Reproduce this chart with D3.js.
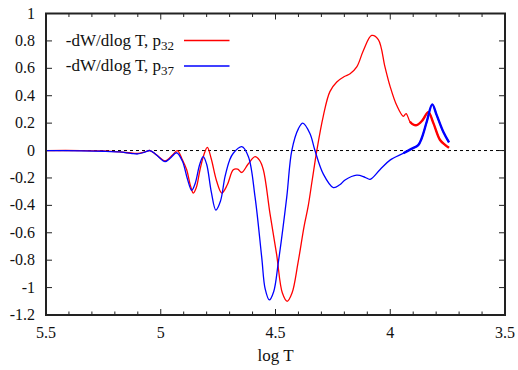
<!DOCTYPE html>
<html>
<head>
<meta charset="utf-8">
<script src="https://cdn.jsdelivr.net/npm/d3@7/dist/d3.min.js"></script>
<style>
  html, body { margin: 0; padding: 0; background: #fff; }
</style>
</head>
<body>
<svg id="chart" width="518" height="370"></svg>
<script>
// -dW/dlog T for the p32 profile
const redLogT = [5.50, 5.35, 5.25, 5.18, 5.13, 5.10, 5.07, 5.047, 5.02, 4.981, 4.95, 4.928, 4.905, 4.887,
  4.87, 4.858, 4.845, 4.829, 4.812, 4.797, 4.78, 4.757, 4.734, 4.71, 4.684, 4.665, 4.647, 4.62, 4.589,
  4.57, 4.553, 4.524, 4.495, 4.47, 4.449, 4.428, 4.402, 4.375, 4.358, 4.34, 4.32, 4.292, 4.263, 4.233, 4.2, 4.175,
  4.146, 4.117, 4.081, 4.052, 4.023, 4.001, 3.972, 3.943, 3.931, 3.914, 3.9, 3.885, 3.86, 3.834,
  3.812, 3.783, 3.76, 3.744];
const redValues = [0, 0, -0.003, -0.01, -0.018, -0.02, -0.01, 0, -0.03, -0.075, -0.035, 0, -0.07, -0.14,
  -0.26, -0.31, -0.27, -0.14, -0.03, 0.023, -0.06, -0.22, -0.31, -0.25, -0.14, -0.135, -0.16, -0.1, -0.045,
  -0.07, -0.14, -0.46, -0.76, -1.04, -1.10, -1.04, -0.82, -0.55, -0.41, -0.215, 0, 0.25, 0.43, 0.50, 0.54, 0.56,
  0.61, 0.73, 0.84, 0.81, 0.61, 0.47, 0.33, 0.25, 0.27, 0.21, 0.19, 0.185, 0.22, 0.28,
  0.2, 0.077, 0.04, 0.02];

// -dW/dlog T for the p37 profile
const blueLogT = [5.50, 5.35, 5.25, 5.18, 5.13, 5.10, 5.07, 5.047, 5.02, 4.981, 4.955, 4.931, 4.905, 4.885,
  4.865, 4.85, 4.83, 4.815, 4.80, 4.78, 4.76, 4.74, 4.72, 4.70, 4.684, 4.647, 4.618, 4.589, 4.56,
  4.545, 4.527, 4.508, 4.488, 4.451, 4.429, 4.40, 4.381, 4.35, 4.328, 4.292, 4.248, 4.22, 4.197, 4.146,
  4.11, 4.088, 4.045, 4.001, 3.943, 3.91, 3.878, 3.863, 3.841, 3.817, 3.798, 3.769, 3.744];
const blueValues = [0, -0.002, -0.005, -0.01, -0.02, -0.025, -0.012, 0, -0.03, -0.08, -0.05, -0.016, -0.08, -0.2,
  -0.29, -0.24, -0.1, -0.045, -0.1, -0.3, -0.434, -0.37, -0.19, -0.07, -0.02, 0.028, -0.045, -0.34, -0.78,
  -1.01, -1.09, -1.03, -0.82, -0.34, 0, 0.16, 0.2, 0.125, 0, -0.17, -0.27, -0.25, -0.215, -0.18,
  -0.195, -0.21, -0.14, -0.07, -0.02, 0.01, 0.04, 0.09, 0.21, 0.337, 0.26, 0.137, 0.06];

const xTickValues = [5.5, 5, 4.5, 4, 3.5];
const xTickLabels = ["5.5", "5", "4.5", "4", "3.5"];
const yTickValues = [1, 0.8, 0.6, 0.4, 0.2, 0, -0.2, -0.4, -0.6, -0.8, -1, -1.2];
const yTickLabels = ["1", "0.8", "0.6", "0.4", "0.2", "0", "-0.2", "-0.4", "-0.6", "-0.8", "-1", "-1.2"];

const seriesNames = ["-dW/dlog T, p", "-dW/dlog T, p"];
const seriesSubs = ["32", "37"];
const seriesColors = ["#ff0000", "#0000ff"];
const xLabel = "log T";

const svg = d3.select("#chart");
const plotLeft = 46, plotRight = 505, plotTop = 13.5, plotBottom = 315;
const textColor = "#111";
const serifFont = "'Liberation Serif'";

const x = d3.scaleLinear().domain([5.5, 3.5]).range([plotLeft, plotRight]);
const y = d3.scaleLinear().domain([-1.2, 1]).range([plotBottom, plotTop]);

const frameColor = "#222";

// zero reference line
svg.append("line")
  .attr("x1", plotLeft).attr("x2", plotRight)
  .attr("y1", y(0)).attr("y2", y(0))
  .attr("stroke", "#000").attr("stroke-width", 1)
  .attr("stroke-dasharray", "3,3");

// ticks on all four sides
const minorX = d3.range(55, 34, -1).map(v => v / 10);
const tickG = svg.append("g").attr("stroke", frameColor).attr("stroke-width", 1);
minorX.forEach(v => {
  const major = xTickValues.some(t => Math.abs(t - v) < 1e-9);
  const len = major ? 6 : 3.5;
  tickG.append("line").attr("x1", x(v)).attr("x2", x(v)).attr("y1", plotBottom).attr("y2", plotBottom - len);
  tickG.append("line").attr("x1", x(v)).attr("x2", x(v)).attr("y1", plotTop).attr("y2", plotTop + len);
});
yTickValues.forEach(v => {
  tickG.append("line").attr("x1", plotLeft).attr("x2", plotLeft + 6).attr("y1", y(v)).attr("y2", y(v));
  tickG.append("line").attr("x1", plotRight).attr("x2", plotRight - 6).attr("y1", y(v)).attr("y2", y(v));
});

// tick labels
svg.append("g").selectAll("text").data(xTickValues).join("text")
  .attr("x", d => x(d)).attr("y", 338)
  .attr("text-anchor", "middle").attr("font-size", 16).attr("fill", textColor)
  .style("font-family", serifFont)
  .text((d, i) => xTickLabels[i]);
svg.append("g").selectAll("text").data(yTickValues).join("text")
  .attr("x", 35).attr("y", d => y(d) + 5)
  .attr("text-anchor", "end").attr("font-size", 16).attr("fill", textColor)
  .style("font-family", serifFont)
  .text((d, i) => yTickLabels[i]);

svg.append("text")
  .attr("x", (plotLeft + plotRight) / 2).attr("y", 361)
  .attr("text-anchor", "middle").attr("font-size", 17).attr("fill", textColor)
  .style("font-family", serifFont)
  .text(xLabel);

// curves
const line = d3.line()
  .x(d => x(d[0])).y(d => y(d[1]))
  .curve(d3.curveCatmullRom.alpha(0.5));

const series = [
  { t: redLogT, v: redValues, color: seriesColors[0], thickFrom: 3.90 },
  { t: blueLogT, v: blueValues, color: seriesColors[1], thickFrom: 3.93 }
];
const plot = svg.append("g");
series.forEach(s => {
  const pts = s.t.map((t, i) => [t, s.v[i]]);
  plot.append("path").attr("d", line(pts))
    .attr("fill", "none").attr("stroke", s.color).attr("stroke-width", 1.3);
  // densely sampled tail renders heavier
  const tail = pts.filter(p => p[0] <= s.thickFrom + 0.03);
  plot.append("path").attr("d", line(tail))
    .attr("fill", "none").attr("stroke", s.color).attr("stroke-width", 2.4)
    .attr("stroke-linejoin", "round");
});

// frame
svg.append("rect")
  .attr("x", plotLeft).attr("y", plotTop)
  .attr("width", plotRight - plotLeft).attr("height", plotBottom - plotTop)
  .attr("fill", "none").attr("stroke", frameColor).attr("stroke-width", 2);

// legend
const legendRows = [40.5, 66];
seriesNames.forEach((name, i) => {
  const ty = legendRows[i] + 5;
  const t = svg.append("text")
    .attr("x", 174).attr("y", ty)
    .attr("text-anchor", "end").attr("font-size", 17).attr("fill", textColor)
    .style("font-family", serifFont);
  t.append("tspan").text(name);
  t.append("tspan").attr("dy", 4).attr("font-size", 13).text(seriesSubs[i]);
  svg.append("line")
    .attr("x1", 184).attr("x2", 229.5)
    .attr("y1", legendRows[i]).attr("y2", legendRows[i])
    .attr("stroke", seriesColors[i]).attr("stroke-width", 1.3);
});
</script>
</body>
</html>
